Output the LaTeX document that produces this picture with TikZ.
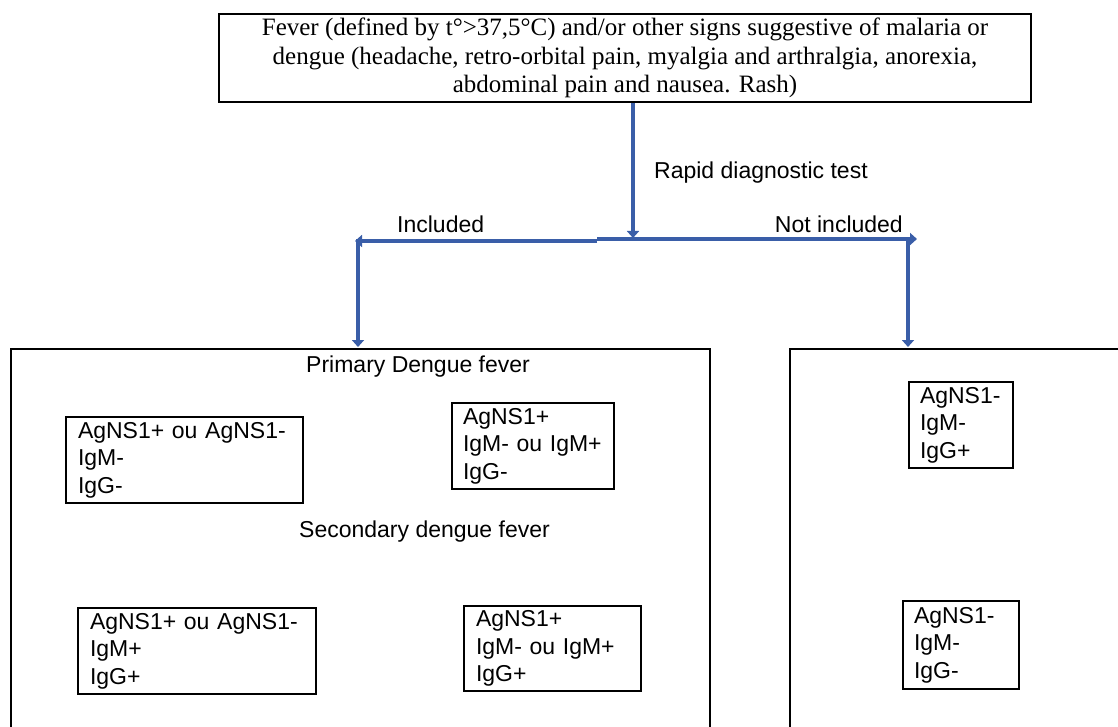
\documentclass[tikz,border=0pt]{standalone}
\usepackage{fontspec}
\setmainfont{Liberation Serif}
\setsansfont{Liberation Sans}
\usetikzlibrary{arrows.meta}
\definecolor{arrowblue}{HTML}{3A5EA8}
\begin{document}
\begin{tikzpicture}[x=1pt,y=-1pt,
  res/.style={draw=black, line width=2pt, anchor=north west, inner xsep=12pt, inner ysep=0pt,
    align=left, font=\sffamily\fontsize{23}{27.5}\selectfont},
  lbl/.style={font=\sffamily\fontsize{23}{27.5}\selectfont, inner sep=0pt},
  flow/.style={draw=arrowblue, line width=4.5pt, -{Triangle[width=12pt,length=7pt]}},
  frame/.style={draw=black, line width=2pt},
]
\fill[white] (0,0) rectangle (1118,727);
\useasboundingbox (0,0) rectangle (1118,727);

% top box
\node[draw=black, line width=2pt, anchor=north west, minimum width=812pt, minimum height=88pt,
  inner sep=0pt, align=center, font=\rmfamily\fontsize{25}{28.5}\selectfont] (top) at (218,13)
  {Fever (defined by t°>37,5°C) and/or other signs suggestive of malaria or\\
   dengue (headache, retro-orbital pain, myalgia and arthralgia, anorexia,\\
   abdominal pain and nausea. Rash)};

% coordinates of the flow
\coordinate (split) at (633,238);
\coordinate (midL) at (597,241);
\coordinate (midR) at (597,239);
\coordinate (lt) at (355,241);
\coordinate (rt) at (917,239);
\coordinate (incTop) at (358,347);
\coordinate (notTop) at (908,347);

% big frames
\coordinate (lb1) at (11,727);
\coordinate (lb2) at (11,349);
\coordinate (lb3) at (710,349);
\coordinate (lb4) at (710,727);
\coordinate (rb1) at (790,727);
\coordinate (rb2) at (790,349);
\coordinate (rb3) at (1118,349);
\draw[frame] (lb1) -- (lb2) -- (lb3) -- (lb4);
\draw[frame] (rb1) -- (rb2) -- (rb3);

% arrows
\draw[flow] (top.south -| split) -- (split);
\draw[flow] (midL) -- (lt);
\draw[flow] (midR) -- (rt);
\draw[flow] (incTop |- midR) -- (incTop);
\draw[flow] (notTop |- midR) -- (notTop);

% labels
\node[lbl, anchor=base west] (rdt) at (654,179) {Rapid diagnostic test};
\node[lbl, anchor=base west] (inc) at (397,233) {Included};
\node[lbl, anchor=base east] (notinc) at (903,233) {Not included};
\node[lbl, anchor=base west] (prim) at (306,372) {Primary Dengue fever};
\node[lbl, anchor=base west] (sec) at (299,537) {Secondary dengue fever};

% result boxes
\node[res, text width=213pt, minimum height=86pt] (a) at (65,416)
  {AgNS1+ ou AgNS1-\\IgM-\\IgG-};
\node[res, text width=140pt, minimum height=86pt, inner xsep=11pt] (b) at (451,402)
  {AgNS1+\\IgM- ou IgM+\\IgG-};
\node[res, text width=214pt, minimum height=86pt] (c) at (77,607)
  {AgNS1+ ou AgNS1-\\IgM+\\IgG+};
\node[res, text width=153pt, minimum height=85pt] (d) at (463,605)
  {AgNS1+\\IgM- ou IgM+\\IgG+};
\node[res, text width=82pt, minimum height=86pt, inner xsep=11pt] (e) at (908,381)
  {AgNS1-\\IgM-\\IgG+};
\node[res, text width=94pt, minimum height=88pt, inner xsep=11pt] (f) at (902,600)
  {AgNS1-\\IgM-\\IgG-};
\end{tikzpicture}
\end{document}
